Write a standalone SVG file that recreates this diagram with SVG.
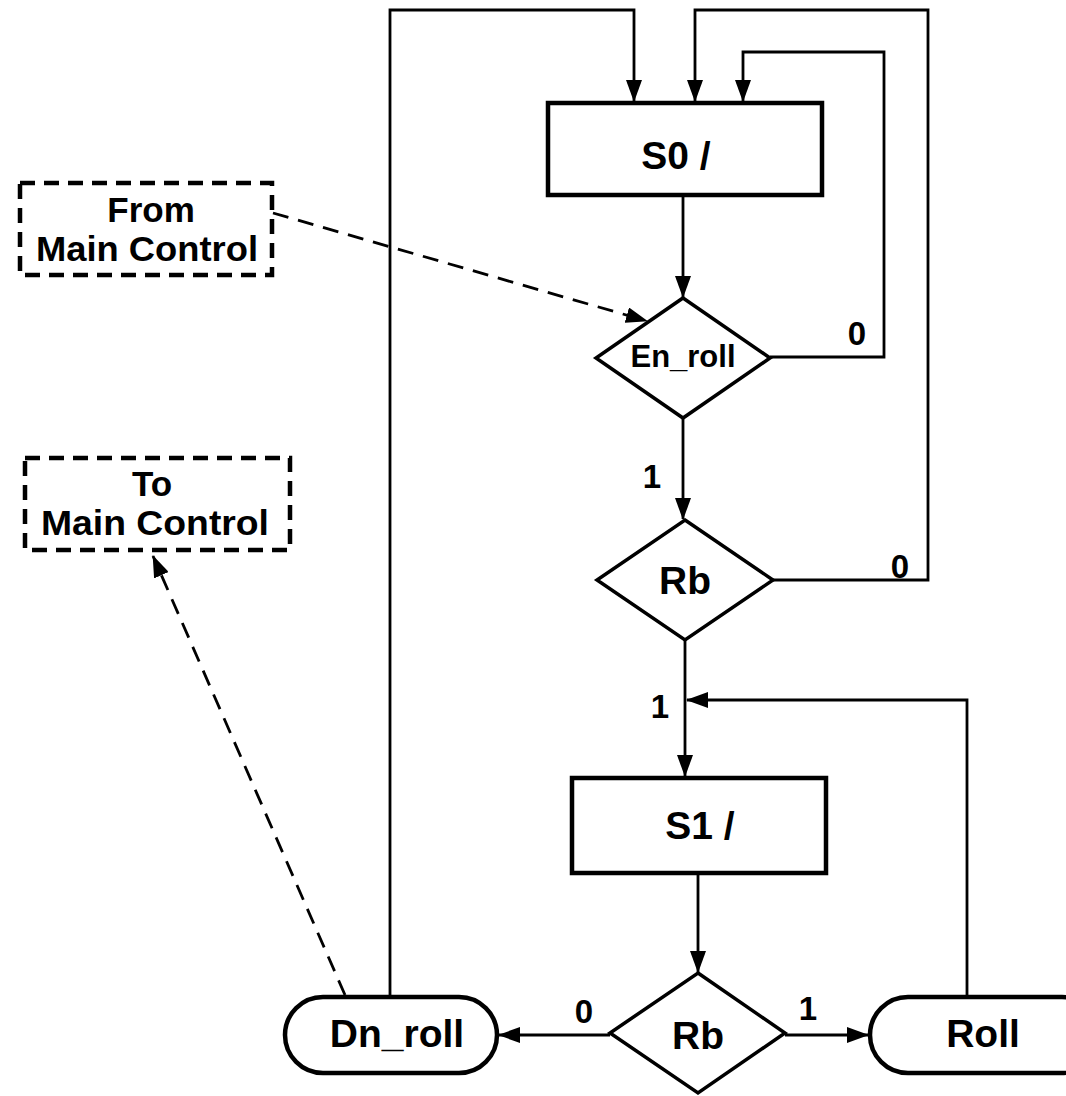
<svg xmlns="http://www.w3.org/2000/svg" width="1066" height="1096" viewBox="0 0 1066 1096">
<style>
.box{fill:#fff;stroke:#000;stroke-width:4.5}
.dia{fill:#fff;stroke:#000;stroke-width:3.5}
.dash{fill:none;stroke:#000;stroke-width:4.5;stroke-dasharray:15 9}
.ln{fill:none;stroke:#000;stroke-width:2.8}
.dl{fill:none;stroke:#000;stroke-width:2.8;stroke-dasharray:16 10}
text{font-family:"Liberation Sans",Arial,sans-serif;font-weight:bold;fill:#000;text-anchor:middle}
.t39{font-size:39px}
.t35{font-size:35px}
.t31{font-size:31px}
.t33{font-size:33px}
</style>
<defs>
<marker id="ah" markerUnits="userSpaceOnUse" markerWidth="22" markerHeight="16" refX="21" refY="8" orient="auto">
<path d="M0,0 L22,8 L0,16 Z" fill="#000"/>
</marker>
</defs>
<g id="connectors">
<polyline class="ln" points="390,995 390,10 634,10 634,101" marker-end="url(#ah)"/>
<polyline class="ln" points="773,580 928,580 928,10 695,10 695,101" marker-end="url(#ah)"/>
<polyline class="ln" points="770,357 884,357 884,52 743,52 743,101" marker-end="url(#ah)"/>
<line class="ln" x1="683" y1="195" x2="683" y2="297" marker-end="url(#ah)"/>
<line class="ln" x1="683" y1="418" x2="683" y2="519" marker-end="url(#ah)"/>
<line class="ln" x1="685" y1="640" x2="685" y2="776" marker-end="url(#ah)"/>
<polyline class="ln" points="967,995 967,700 687,700" marker-end="url(#ah)"/>
<line class="ln" x1="698" y1="873" x2="698" y2="972" marker-end="url(#ah)"/>
<line class="ln" x1="610" y1="1035" x2="499" y2="1035" marker-end="url(#ah)"/>
<line class="ln" x1="785" y1="1035" x2="868" y2="1035" marker-end="url(#ah)"/>
<line class="dl" x1="273" y1="213" x2="647" y2="321" marker-end="url(#ah)"/>
<line class="dl" x1="345" y1="995" x2="153" y2="556" marker-end="url(#ah)"/>
<text class="t33" x="857" y="345">0</text>
<text class="t33" x="652" y="488">1</text>
<text class="t33" x="900" y="578">0</text>
<text class="t33" x="660" y="718">1</text>
<text class="t33" x="584" y="1023">0</text>
<text class="t33" x="808" y="1020">1</text>
</g>
<g id="S0">
<rect class="box" x="548" y="103" width="274" height="92"/>
<text class="t39" x="676" y="169">S0 /</text>
</g>
<g id="En_roll">
<polygon class="dia" points="683,298 770,358 683,418 596,358"/>
<text class="t31" x="683" y="367">En_roll</text>
</g>
<g id="Rb1">
<polygon class="dia" points="685,520 773,580 685,640 597,580"/>
<text class="t39" x="685" y="594">Rb</text>
</g>
<g id="S1">
<rect class="box" x="572" y="778" width="254" height="95"/>
<text class="t39" x="700" y="839">S1 /</text>
</g>
<g id="Rb2">
<polygon class="dia" points="698,973 785,1033 698,1093 610,1033"/>
<text class="t39" x="698" y="1049">Rb</text>
</g>
<g id="Dn_roll">
<rect class="box" x="285" y="997" width="212" height="76" rx="38" ry="38"/>
<text class="t39" x="397" y="1047">Dn_roll</text>
</g>
<g id="Roll">
<rect class="box" x="870" y="997" width="230" height="76" rx="38" ry="38"/>
<text class="t39" x="983" y="1047">Roll</text>
</g>
<g id="FromMain">
<rect class="dash" x="20" y="183" width="252" height="92"/>
<text class="t35" x="151" y="222">From</text>
<text class="t35" x="147" y="261" textLength="222" lengthAdjust="spacingAndGlyphs">Main Control</text>
</g>
<g id="ToMain">
<rect class="dash" x="25" y="458" width="265" height="92"/>
<text class="t35" x="152" y="496">To</text>
<text class="t35" x="155" y="535" textLength="228" lengthAdjust="spacingAndGlyphs">Main Control</text>
</g>
</svg>
